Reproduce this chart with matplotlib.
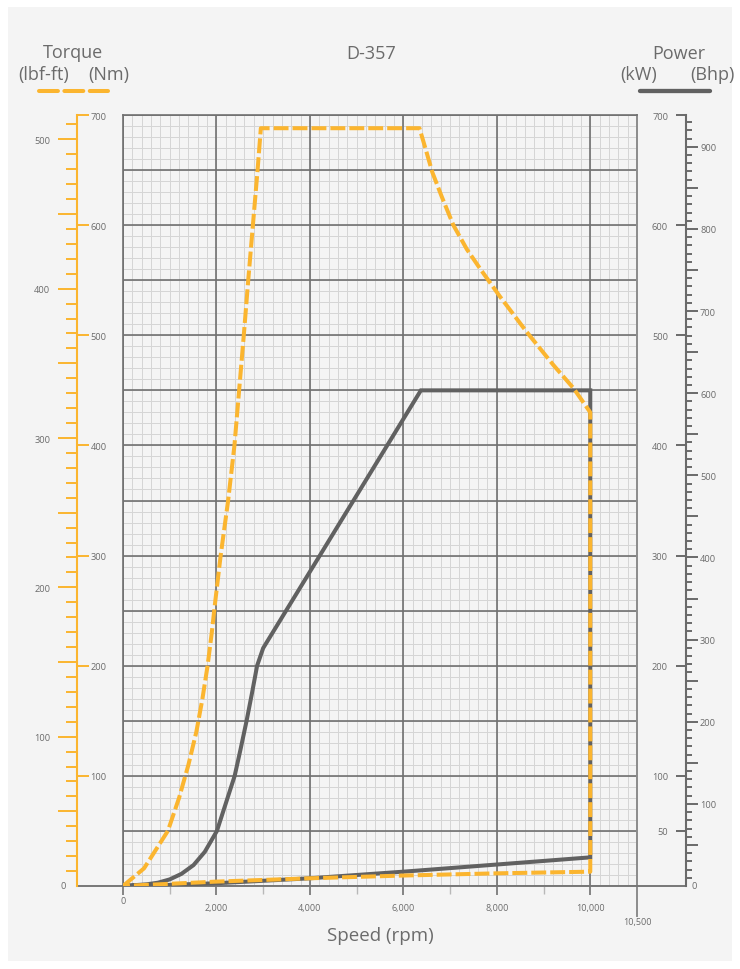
import matplotlib.pyplot as plt
import matplotlib.ticker as mticker
import matplotlib.transforms as mtransforms
from matplotlib.lines import Line2D
from matplotlib.patches import Rectangle

plt.rcParams['font.family'] = ['Open Sans', 'DejaVu Sans']

# torque envelope (Nm) vs speed, then the low return line back to 0
torque_rpm = [0, 450, 960, 1200, 1400, 1570, 1700, 1810, 1900, 1965, 2090, 2250, 2385, 2485,
              2585, 2680, 2780, 2880, 2950, 6345, 6470, 6620, 6820, 7070, 7360, 7650, 8070,
              8640, 9210, 9640, 10000]
torque_nm = [0, 16, 50, 80, 110, 140, 170, 200, 230, 255, 300, 350, 400, 450,
             500, 550, 600, 650, 688, 688, 670, 648, 626, 600, 578, 560, 535,
             503, 473, 452, 430]
torque_low_rpm = [10000, 8000, 6000, 4000, 2000, 1000, 0]
torque_low_nm = [13, 11.5, 9.5, 7, 4, 2, 0]

# power envelope (kW) vs speed, then the low return line
power_rpm = [0, 500, 750, 1000, 1250, 1510, 1750, 2010, 2200, 2390, 2520, 2645, 2760, 2870, 3000,
             6375, 10000]
power_kw = [0, 1.5, 3, 6, 11, 19, 31, 50, 75, 100, 125, 150, 175, 200, 216, 450, 450]
power_low_rpm = [10000, 8000, 6000, 4000, 2000, 1000, 0]
power_low_kw = [26, 19.5, 13, 7, 2.5, 1, 0]

speed_max = 11000            # right edge of the grid (labelled 10,500 on the sheet)
speed_ticks = [0, 2000, 4000, 6000, 8000, 10000]
speed_odd_ticks = [1000, 3000, 5000, 7000, 9000]
nm_ticks = [100, 200, 300, 400, 500, 600, 700]
kw_ticks = [50, 100, 200, 300, 400, 500, 600, 700]
lbf_ticks = list(range(50, 501, 50))
bhp_ticks = list(range(50, 901, 50))

NM_PER_LBFFT = 1.3558
KW_PER_BHP = 0.7457

ORANGE = '#fbb52f'
GREY = '#616161'
MAJOR = '#707070'
MINOR = '#d5d5d5'
TXT = '#6b6b6b'
BG = '#f4f4f4'

W, H = 740, 970
def fx(p):
    return p / W
def fy(p):
    return 1 - p / H

fig = plt.figure(figsize=(7.4, 9.7), dpi=100, facecolor='white')
fig.add_artist(Rectangle((fx(8), fy(962)), 724 / W, 954 / H, transform=fig.transFigure,
                         facecolor=BG, edgecolor='none', zorder=-10))

plot_h = (887 - 116) / H
plot_rect = [fx(123), fy(887), (637 - 123) / W, plot_h]

# fine grid on its own axes so the heavy grid sits on top of it
axg = fig.add_axes(plot_rect)
axg.set_facecolor('none')
axg.set_xlim(0, speed_max)
axg.set_ylim(0, 700)
axg.xaxis.set_major_locator(mticker.MultipleLocator(200))
axg.yaxis.set_major_locator(mticker.MultipleLocator(10))
axg.grid(color=MINOR, lw=0.7)
axg.tick_params(length=0, labelbottom=False, labelleft=False)
for s in axg.spines.values():
    s.set_visible(False)

ax = fig.add_axes(plot_rect)
ax.set_facecolor('none')
ax.set_xlim(0, speed_max)
ax.set_ylim(0, 700)
ax.xaxis.set_major_locator(mticker.FixedLocator(speed_ticks))
ax.yaxis.set_major_locator(mticker.MultipleLocator(50))
ax.grid(which='major', color=MAJOR, lw=1.2)
ax.set_axisbelow(True)
for s in ['right', 'bottom']:
    ax.spines[s].set_visible(False)
for s in ['top', 'left']:
    ax.spines[s].set_color(MAJOR)
    ax.spines[s].set_linewidth(1.2)
ax.tick_params(axis='y', which='both', left=False, labelleft=False)
ax.tick_params(axis='x', which='major', length=6.5, width=1.2, color=MAJOR,
               labelsize=6.5, labelcolor=TXT, pad=5.5)
ax.set_xticklabels(['' if v == 0 else f'{v:,}' for v in speed_ticks])

# small ticks at odd thousands
sec = ax.secondary_xaxis('bottom')
sec.set_xticks(speed_odd_ticks, labels=[])
sec.tick_params(length=5.8, width=1.0, color='#b8b8b8')
sec.spines['bottom'].set_visible(False)

# right edge and the baseline
ax.axvline(speed_max, ymin=-30 / 771, ymax=1, color='#8c8c8c', lw=1.4, clip_on=False)
trans_fx = mtransforms.blended_transform_factory(fig.transFigure, ax.transData)
ax.plot([fx(77), fx(686)], [0, 0], transform=trans_fx, clip_on=False, color='#777777', lw=1.4, zorder=2)

trans_xf = mtransforms.blended_transform_factory(ax.transData, fig.transFigure)
ax.text(0, fy(901.5), '0', transform=trans_xf, ha='center', va='center', fontsize=6.5, color=TXT)
ax.text(speed_max, fy(923), '10,500', transform=trans_xf, ha='center', va='center', fontsize=6.5, color=TXT)

# curves
ax.plot(power_rpm + power_low_rpm, power_kw + power_low_kw, color=GREY, lw=2.9, zorder=3,
        solid_joinstyle='miter')
ax.plot(torque_rpm + torque_low_rpm, torque_nm + torque_low_nm, color=ORANGE, lw=2.9, zorder=4,
        dashes=(3.7, 1.0))

def hide_box(a, keep=None):
    a.patch.set_visible(False)
    a.set_xticks([])
    for k, s in a.spines.items():
        s.set_visible(k == keep)

def hundreds(v, p):
    return f'{v:.0f}' if round(v) % 100 == 0 else ''

# left: Nm (right side of spine) and lbf-ft (left side)
left_rect = [fx(77), fy(887), 1e-5, plot_h]
axNm = fig.add_axes(left_rect)
hide_box(axNm, 'left')
axNm.spines['left'].set_color(ORANGE)
axNm.spines['left'].set_linewidth(1.5)
axNm.set_ylim(0, 700)
axNm.yaxis.tick_right()
axNm.set_yticks(nm_ticks)
axNm.tick_params(axis='y', direction='out', length=8.4, width=1.4, color=ORANGE,
                 labelsize=6.7, labelcolor=TXT, pad=1.2)

axLbf = fig.add_axes(left_rect)
hide_box(axLbf)
axLbf.set_ylim(0, 700 / NM_PER_LBFFT)
axLbf.yaxis.set_major_locator(mticker.FixedLocator(lbf_ticks))
axLbf.yaxis.set_minor_locator(mticker.FixedLocator(range(10, 511, 10)))
axLbf.yaxis.set_major_formatter(mticker.FuncFormatter(hundreds))
axLbf.tick_params(axis='y', which='major', direction='out', length=13.7, width=1.4, color=ORANGE,
                  labelsize=6.7, labelcolor=TXT, pad=5.5)
axLbf.tick_params(axis='y', which='minor', direction='out', length=7.7, width=1.4, color=ORANGE)
fig.text(fx(63), fy(887), '0', ha='center', va='center', fontsize=6.7, color=TXT)

# right: kW (left side of spine) and Bhp (right side)
right_rect = [fx(685.7), fy(887), 1e-5, plot_h]
axKw = fig.add_axes(right_rect)
hide_box(axKw, 'left')
axKw.spines['left'].set_color('#6a6a6a')
axKw.spines['left'].set_linewidth(1.5)
axKw.set_ylim(0, 700)
axKw.set_yticks(kw_ticks)
axKw.tick_params(axis='y', direction='out', length=7.2, width=1.4, color='#6a6a6a',
                 labelsize=6.7, labelcolor=TXT, pad=5.5)

axBhp = fig.add_axes(right_rect)
hide_box(axBhp)
axBhp.set_ylim(0, 700 / KW_PER_BHP)
axBhp.yaxis.tick_right()
axBhp.yaxis.set_major_locator(mticker.FixedLocator(bhp_ticks))
axBhp.yaxis.set_minor_locator(mticker.FixedLocator(range(10, 931, 10)))
axBhp.yaxis.set_major_formatter(mticker.FuncFormatter(hundreds))
axBhp.tick_params(axis='y', which='major', direction='out', length=8.6, width=1.4, color='#6a6a6a',
                  labelsize=6.7, labelcolor=TXT, pad=1.7)
axBhp.tick_params(axis='y', which='minor', direction='out', length=4.0, width=1.4, color='#6a6a6a')
fig.text(fx(694.5), fy(887), '0', ha='center', va='center', fontsize=6.7, color=TXT)

# header
fig.text(fx(371), fy(59), 'D-357', ha='center', va='baseline', fontsize=13, color=TXT)
fig.text(fx(73), fy(58.5), 'Torque', ha='center', va='baseline', fontsize=13, color=TXT)
fig.text(fx(44), fy(80), '(lbf-ft)', ha='center', va='baseline', fontsize=13, color=TXT)
fig.text(fx(109), fy(80), '(Nm)', ha='center', va='baseline', fontsize=13, color=TXT)
fig.text(fx(679), fy(59), 'Power', ha='center', va='baseline', fontsize=13, color=TXT)
fig.text(fx(639), fy(80), '(kW)', ha='center', va='baseline', fontsize=13, color=TXT)
fig.text(fx(712.5), fy(80), '(Bhp)', ha='center', va='baseline', fontsize=13, color=TXT)
fig.add_artist(Line2D([fx(39), fx(108)], [fy(92), fy(92)], transform=fig.transFigure,
                      color=ORANGE, lw=2.9, dashes=(4.7, 1.6), dash_capstyle='round'))
fig.add_artist(Line2D([fx(640), fx(710)], [fy(92), fy(92)], transform=fig.transFigure,
                      color=GREY, lw=3.1, solid_capstyle='round'))

fig.text(fx(380), fy(941), 'Speed (rpm)', ha='center', va='baseline', fontsize=13.5, color=TXT)

fig.savefig('out.png', dpi=100, facecolor='white')
